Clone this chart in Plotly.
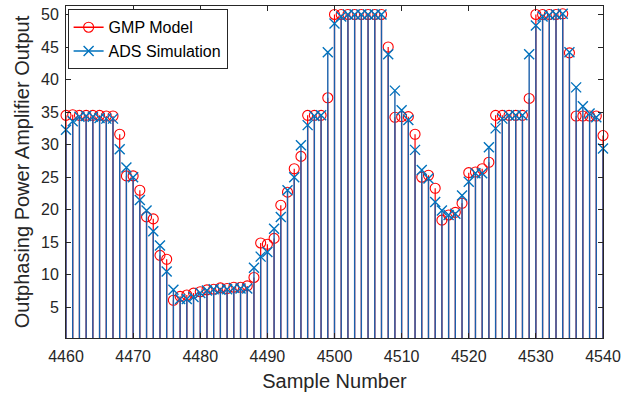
import plotly.graph_objects as go

# Sample indices on the x axis
samples = list(range(4460, 4541))

# GMP model output (red stems, circle markers)
gmp_model = [
    34.5, 34.6, 34.5, 34.5, 34.5, 34.5, 34.4, 34.4, 31.6, 25.2,
    25.2, 23.0, 18.9, 18.6, 13.0, 12.4, 6.1, 6.7, 6.9, 7.2,
    7.4, 7.7, 7.8, 8.0, 7.9, 8.1, 8.1, 8.3, 9.6, 14.9,
    14.7, 15.6, 20.7, 22.7, 26.3, 28.2, 34.5, 34.5, 34.5, 37.2,
    50.0, 50.0, 50.0, 50.0, 50.0, 50.0, 50.0, 50.0, 45.0, 34.2,
    34.3, 34.3, 31.6, 25.0, 25.3, 23.3, 18.4, 19.2, 19.6, 21.0,
    25.7, 25.8, 26.3, 27.3, 34.5, 34.5, 34.5, 34.5, 34.5, 37.1,
    50.0, 50.0, 50.0, 50.0, 50.1, 44.1, 34.4, 34.4, 34.4, 34.4,
    31.4,
]

# ADS simulation output (blue stems, x markers)
ads_simulation = [
    32.3, 33.6, 34.3, 34.4, 34.3, 34.1, 34.0, 34.0, 29.3, 26.5,
    25.0, 21.5, 19.9, 16.7, 14.5, 10.5, 7.7, 6.3, 6.3, 6.6,
    7.2, 7.6, 7.8, 7.7, 7.8, 8.0, 7.9, 7.9, 11.1, 12.8,
    13.5, 17.1, 18.9, 23.0, 25.0, 29.9, 33.0, 34.4, 34.5, 44.2,
    48.6, 49.7, 50.0, 50.0, 50.0, 50.0, 50.0, 50.0, 43.9, 38.3,
    35.3, 33.8, 29.2, 26.1, 24.8, 21.2, 19.9, 19.2, 19.4, 22.2,
    24.3, 25.6, 25.6, 29.6, 32.5, 34.0, 34.5, 34.5, 34.5, 43.9,
    48.3, 49.7, 49.9, 50.0, 50.1, 44.2, 38.8, 35.9, 34.8, 34.2,
    29.4,
]

x_ticks = list(range(4460, 4541, 10))
y_ticks = list(range(5, 51, 5))

RED = "#FF0000"
BLUE = "#0072BD"
BLUE_STEM = "#1A5FAB"
AXIS = "#262626"
FONT = "Liberation Sans, Arial, Helvetica, sans-serif"


def stem_lines(xs, ys):
    """Vertical segments from the baseline to each value, separated by gaps."""
    sx, sy = [], []
    for a, b in zip(xs, ys):
        sx += [a, a, None]
        sy += [0, b, None]
    return sx, sy


def stem_heads(xs, ys):
    """Marker points with gaps between them so no connecting line is drawn."""
    hx, hy = [], []
    for a, b in zip(xs, ys):
        hx += [a, None]
        hy += [b, None]
    return hx, hy


fig = go.Figure()

for name, values, stem_color, color, symbol, msize, mwidth, swidth in [
    ("GMP Model", gmp_model, RED, RED, "circle-open", 10, 1.1, 1.2),
    ("ADS Simulation", ads_simulation, BLUE_STEM, BLUE, "x-thin-open", 10, 1.4, 1.4),
]:
    lx, ly = stem_lines(samples, values)
    fig.add_trace(go.Scatter(
        x=lx, y=ly, mode="lines",
        line=dict(color=stem_color, width=swidth),
        showlegend=False, hoverinfo="skip", legendgroup=name,
    ))
    hx, hy = stem_heads(samples, values)
    fig.add_trace(go.Scatter(
        x=hx, y=hy, mode="lines+markers", name=name, legendgroup=name,
        connectgaps=False, cliponaxis=False,
        line=dict(color=color, width=1.5),
        marker=dict(symbol=symbol, size=msize, color=color,
                    line=dict(color=color, width=mwidth)),
    ))

axis_common = dict(
    showline=True, linecolor=AXIS, linewidth=1, mirror="allticks",
    ticks="inside", ticklen=5, tickwidth=1, tickcolor=AXIS,
    showgrid=False, zeroline=False,
    tickfont=dict(family=FONT, size=16, color=AXIS),
)

fig.update_xaxes(
    range=[4460, 4540], tickvals=x_ticks, ticklabelstandoff=4,
    title=dict(text="Sample Number", font=dict(family=FONT, size=20, color=AXIS), standoff=9),
    **axis_common,
)
fig.update_yaxes(
    range=[0.3, 51.3], tickvals=y_ticks, ticklabelstandoff=3,
    title=dict(text="Outphasing Power Amplifier Output", font=dict(family=FONT, size=20, color=AXIS), standoff=6),
    **axis_common,
)

fig.update_layout(
    width=641, height=394,
    margin=dict(l=66, r=38, t=6, b=56),
    paper_bgcolor="white", plot_bgcolor="white",
    font=dict(family=FONT, color=AXIS),
    legend=dict(
        x=0.003, y=0.99, xanchor="left", yanchor="top",
        bgcolor="white", bordercolor=AXIS, borderwidth=1,
        font=dict(family=FONT, size=16, color="black"),
        tracegroupgap=0, itemwidth=30,
    ),
)

fig.write_html("out.html")
